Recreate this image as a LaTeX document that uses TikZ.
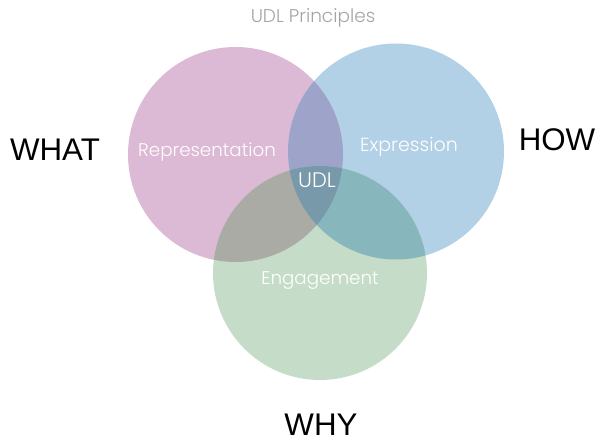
\documentclass[tikz,border=0pt]{standalone}
\usepackage{fontspec}
\setmainfont{Liberation Sans}
\newfontfamily\lt{Poppins Light}
\definecolor{cpink}{RGB}{220,185,212}
\definecolor{cblue}{RGB}{178,208,230}
\definecolor{cgreen}{RGB}{197,221,200}
\definecolor{cpb}{RGB}{158,163,201}
\definecolor{cpg}{RGB}{171,171,165}
\definecolor{cbg}{RGB}{135,182,188}
\definecolor{cmid}{RGB}{120,153,169}
\definecolor{ctitle}{RGB}{160,166,166}
\tikzset{
  lbl/.style={font=\lt\fontsize{18.3}{20}\selectfont, text=white, inner sep=0pt},
  side/.style={font=\fontsize{31.3}{34}\selectfont, text=black, inner sep=0pt},
}
\begin{document}
\begin{tikzpicture}[x=1pt,y=-1pt]
\useasboundingbox (0,0) rectangle (596,443);
\def\pinkc{(235.5,154.5) circle (107.5)}
\def\bluec{(396,151.5) circle (108)}
\def\greenc{(320,273) circle (107)}
\fill[cpink] \pinkc;
\fill[cblue] \bluec;
\fill[cgreen] \greenc;
\begin{scope}\clip \pinkc; \fill[cpb] \bluec; \end{scope}
\begin{scope}\clip \pinkc; \fill[cpg] \greenc; \end{scope}
\begin{scope}\clip \bluec; \fill[cbg] \greenc; \end{scope}
\begin{scope}\clip \pinkc; \clip \bluec; \fill[cmid] \greenc; \end{scope}
\node[lbl, text=ctitle, font=\lt\fontsize{18.5}{20}\selectfont] (title) at (313,18) {UDL Principles};
\node[lbl] (rep) at (207,152) {Representation};
\node[lbl, font=\lt\fontsize{19}{20}\selectfont] (exp) at (409,147) {Expression};
\node[lbl] (eng) at (320,281) {Engagement};
\node[lbl, font=\lt\fontsize{21}{22}\selectfont] (udl) at (317,180) {UDL};
\node[side] (what) at (55,150) {WHAT};
\node[side] (how) at (557,140) {HOW};
\node[side] (why) at (321,425) {WHY};
\end{tikzpicture}
\end{document}
